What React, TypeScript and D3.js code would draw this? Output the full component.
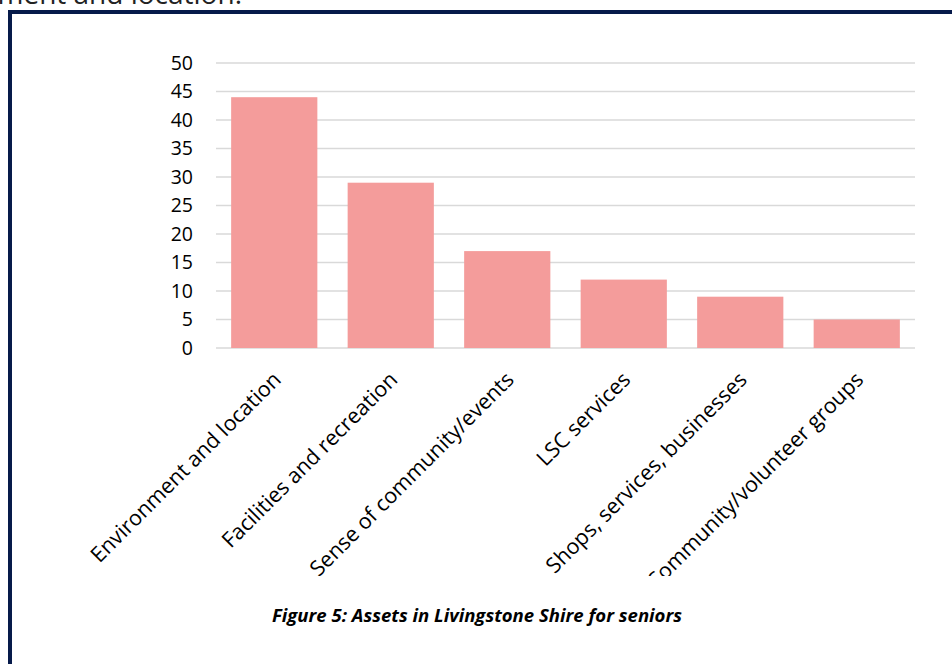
import React, { useRef, useEffect } from 'react';
import * as d3 from 'd3';

const W = 952;
const H = 664;

const categories = [
  'Environment and location',
  'Facilities and recreation',
  'Sense of community/events',
  'LSC services',
  'Shops, services, businesses',
  'Community/volunteer groups',
];
const values = [44, 29, 17, 12, 9, 5];
const yTicks = [0, 5, 10, 15, 20, 25, 30, 35, 40, 45, 50];
const caption = 'Figure 5: Assets in Livingstone Shire for seniors';
const topText = 'ment and location.';

const FONT = "'Open Sans', sans-serif";

export default function App() {
  const svgRef = useRef<SVGSVGElement>(null);

  useEffect(() => {
    if (!svgRef.current) return;
    const svg = d3.select(svgRef.current);
    svg.selectAll('*').remove();

    const x = d3
      .scaleBand<string>()
      .domain(categories)
      .range([216, 915])
      .paddingInner(0.26)
      .paddingOuter(0.13);
    const y = d3.scaleLinear().domain([0, 50]).range([348, 63]);

    // cut-off body text above the frame
    svg
      .append('text')
      .attr('x', 242)
      .attr('y', 4)
      .attr('text-anchor', 'end')
      .attr('font-family', FONT)
      .attr('font-size', 28)
      .attr('fill', '#222')
      .text(topText);

    // frame
    svg
      .append('rect')
      .attr('x', 10)
      .attr('y', 12)
      .attr('width', 980)
      .attr('height', 720)
      .attr('fill', '#fff')
      .attr('stroke', '#061a4a')
      .attr('stroke-width', 4);

    const defs = svg.append('defs');
    defs
      .append('clipPath')
      .attr('id', 'plot-clip')
      .append('rect')
      .attr('x', 12)
      .attr('y', 14)
      .attr('width', 940)
      .attr('height', 562);

    const g = svg.append('g').attr('clip-path', 'url(#plot-clip)');

    // gridlines
    g.selectAll('line.grid')
      .data(yTicks)
      .join('line')
      .attr('class', 'grid')
      .attr('x1', 216)
      .attr('x2', 915)
      .attr('y1', (d) => y(d))
      .attr('y2', (d) => y(d))
      .attr('stroke', '#d9d9d9')
      .attr('stroke-width', 1.5);

    // y tick labels
    g.selectAll('text.ytick')
      .data(yTicks)
      .join('text')
      .attr('class', 'ytick')
      .attr('x', 193)
      .attr('y', (d) => y(d))
      .attr('dy', '0.35em')
      .attr('text-anchor', 'end')
      .attr('font-family', FONT)
      .attr('font-size', 19.5)
      .attr('fill', '#000')
      .text((d) => d);

    // bars
    g.selectAll('rect.bar')
      .data(values)
      .join('rect')
      .attr('class', 'bar')
      .attr('x', (_, i) => x(categories[i]) ?? 0)
      .attr('y', (d) => y(d))
      .attr('width', x.bandwidth())
      .attr('height', (d) => y(0) - y(d))
      .attr('fill', '#f49c9b');

    // rotated category labels
    g.selectAll('text.xlabel')
      .data(categories)
      .join('text')
      .attr('class', 'xlabel')
      .attr(
        'transform',
        (d) => `translate(${(x(d) ?? 0) + x.bandwidth() / 2 + 8}, 381) rotate(-45)`
      )
      .attr('text-anchor', 'end')
      .attr('font-family', FONT)
      .attr('font-size', 21.5)
      .attr('fill', '#000')
      .text((d) => d);

    // caption
    svg
      .append('text')
      .attr('x', 477)
      .attr('y', 622)
      .attr('text-anchor', 'middle')
      .attr('font-family', FONT)
      .attr('font-size', 17)
      .attr('font-weight', 'bold')
      .attr('font-style', 'italic')
      .attr('textLength', 410)
      .attr('lengthAdjust', 'spacingAndGlyphs')
      .attr('fill', '#000')
      .text(caption);
  }, []);

  return (
    <svg
      ref={svgRef}
      width={W}
      height={H}
      style={{ position: 'absolute', left: 0, top: 0, background: '#fff' }}
    />
  );
}
